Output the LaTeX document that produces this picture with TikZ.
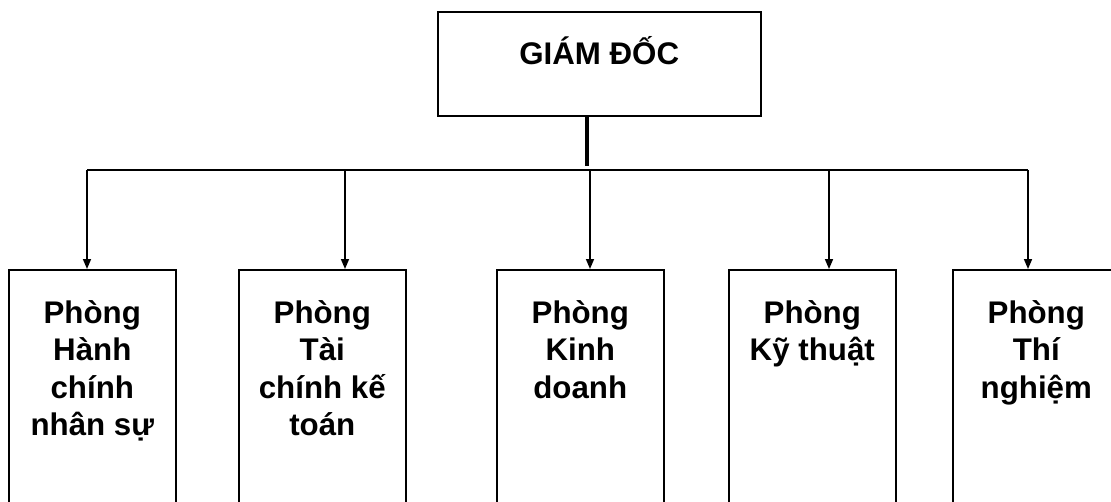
\documentclass[tikz,border=0pt]{standalone}
\usepackage{fontspec}
\setmainfont{Liberation Sans}
\usetikzlibrary{arrows.meta,positioning}

\begin{document}
\begin{tikzpicture}[x=0.02cm, y=-0.02cm,
  box/.style={draw, line width=0.9pt, inner sep=0pt},
  dept/.style={box, minimum width=3.34cm, minimum height=5cm, anchor=north west},
  lbl/.style={font=\bfseries\fontsize{17.8}{21.3}\selectfont, align=center,
    inner sep=0pt},
  link/.style={line width=0.9pt},
  arr/.style={link, -{Triangle[length=0.2cm, width=0.16cm]}}]
  \useasboundingbox (0,0) rectangle (1111,501);
  \clip (0,0) rectangle (1111,501);

  % top
  \node[box, minimum width=6.46cm, minimum height=2.08cm, anchor=north west]
    (gd) at (437,11) {};
  \node[lbl, anchor=base] (gd-t) at ([yshift=-1.08cm]gd.north) {GIÁM ĐỐC};

  % departments
  \foreach \n/\x/\t in {hcns/8/{Phòng\\Hành\\chính\\nhân sự},
                        tckt/238/{Phòng\\Tài\\chính kế\\toán},
                        kd/496/{Phòng\\Kinh\\doanh},
                        kt/728/{Phòng\\Kỹ thuật},
                        tn/952/{Phòng\\Thí\\nghiệm}}
  {
    \node[dept] (\n) at (\x,269) {};
    \node[lbl, anchor=north] (\n-t) at ([yshift=-0.62cm]\n.north) {\t};
  }

  % connectors
  \coordinate (bus) at (587,170);
  \coordinate (b1) at (87,170);
  \coordinate (b2) at (345,170);
  \coordinate (b3) at (590,170);
  \coordinate (b4) at (829,170);
  \coordinate (b5) at (1028,170);
  \draw[line width=2.4pt] (gd.south -| bus) -- ([yshift=0.08cm]bus);
  \draw[link] (b1) -- (b5);
  \draw[arr] (b1) -- (b1 |- hcns.north);
  \draw[arr] (b2) -- (b2 |- tckt.north);
  \draw[arr] (b3) -- (b3 |- kd.north);
  \draw[arr] (b4) -- (b4 |- kt.north);
  \draw[arr] (b5) -- (b5 |- tn.north);
\end{tikzpicture}
\end{document}
